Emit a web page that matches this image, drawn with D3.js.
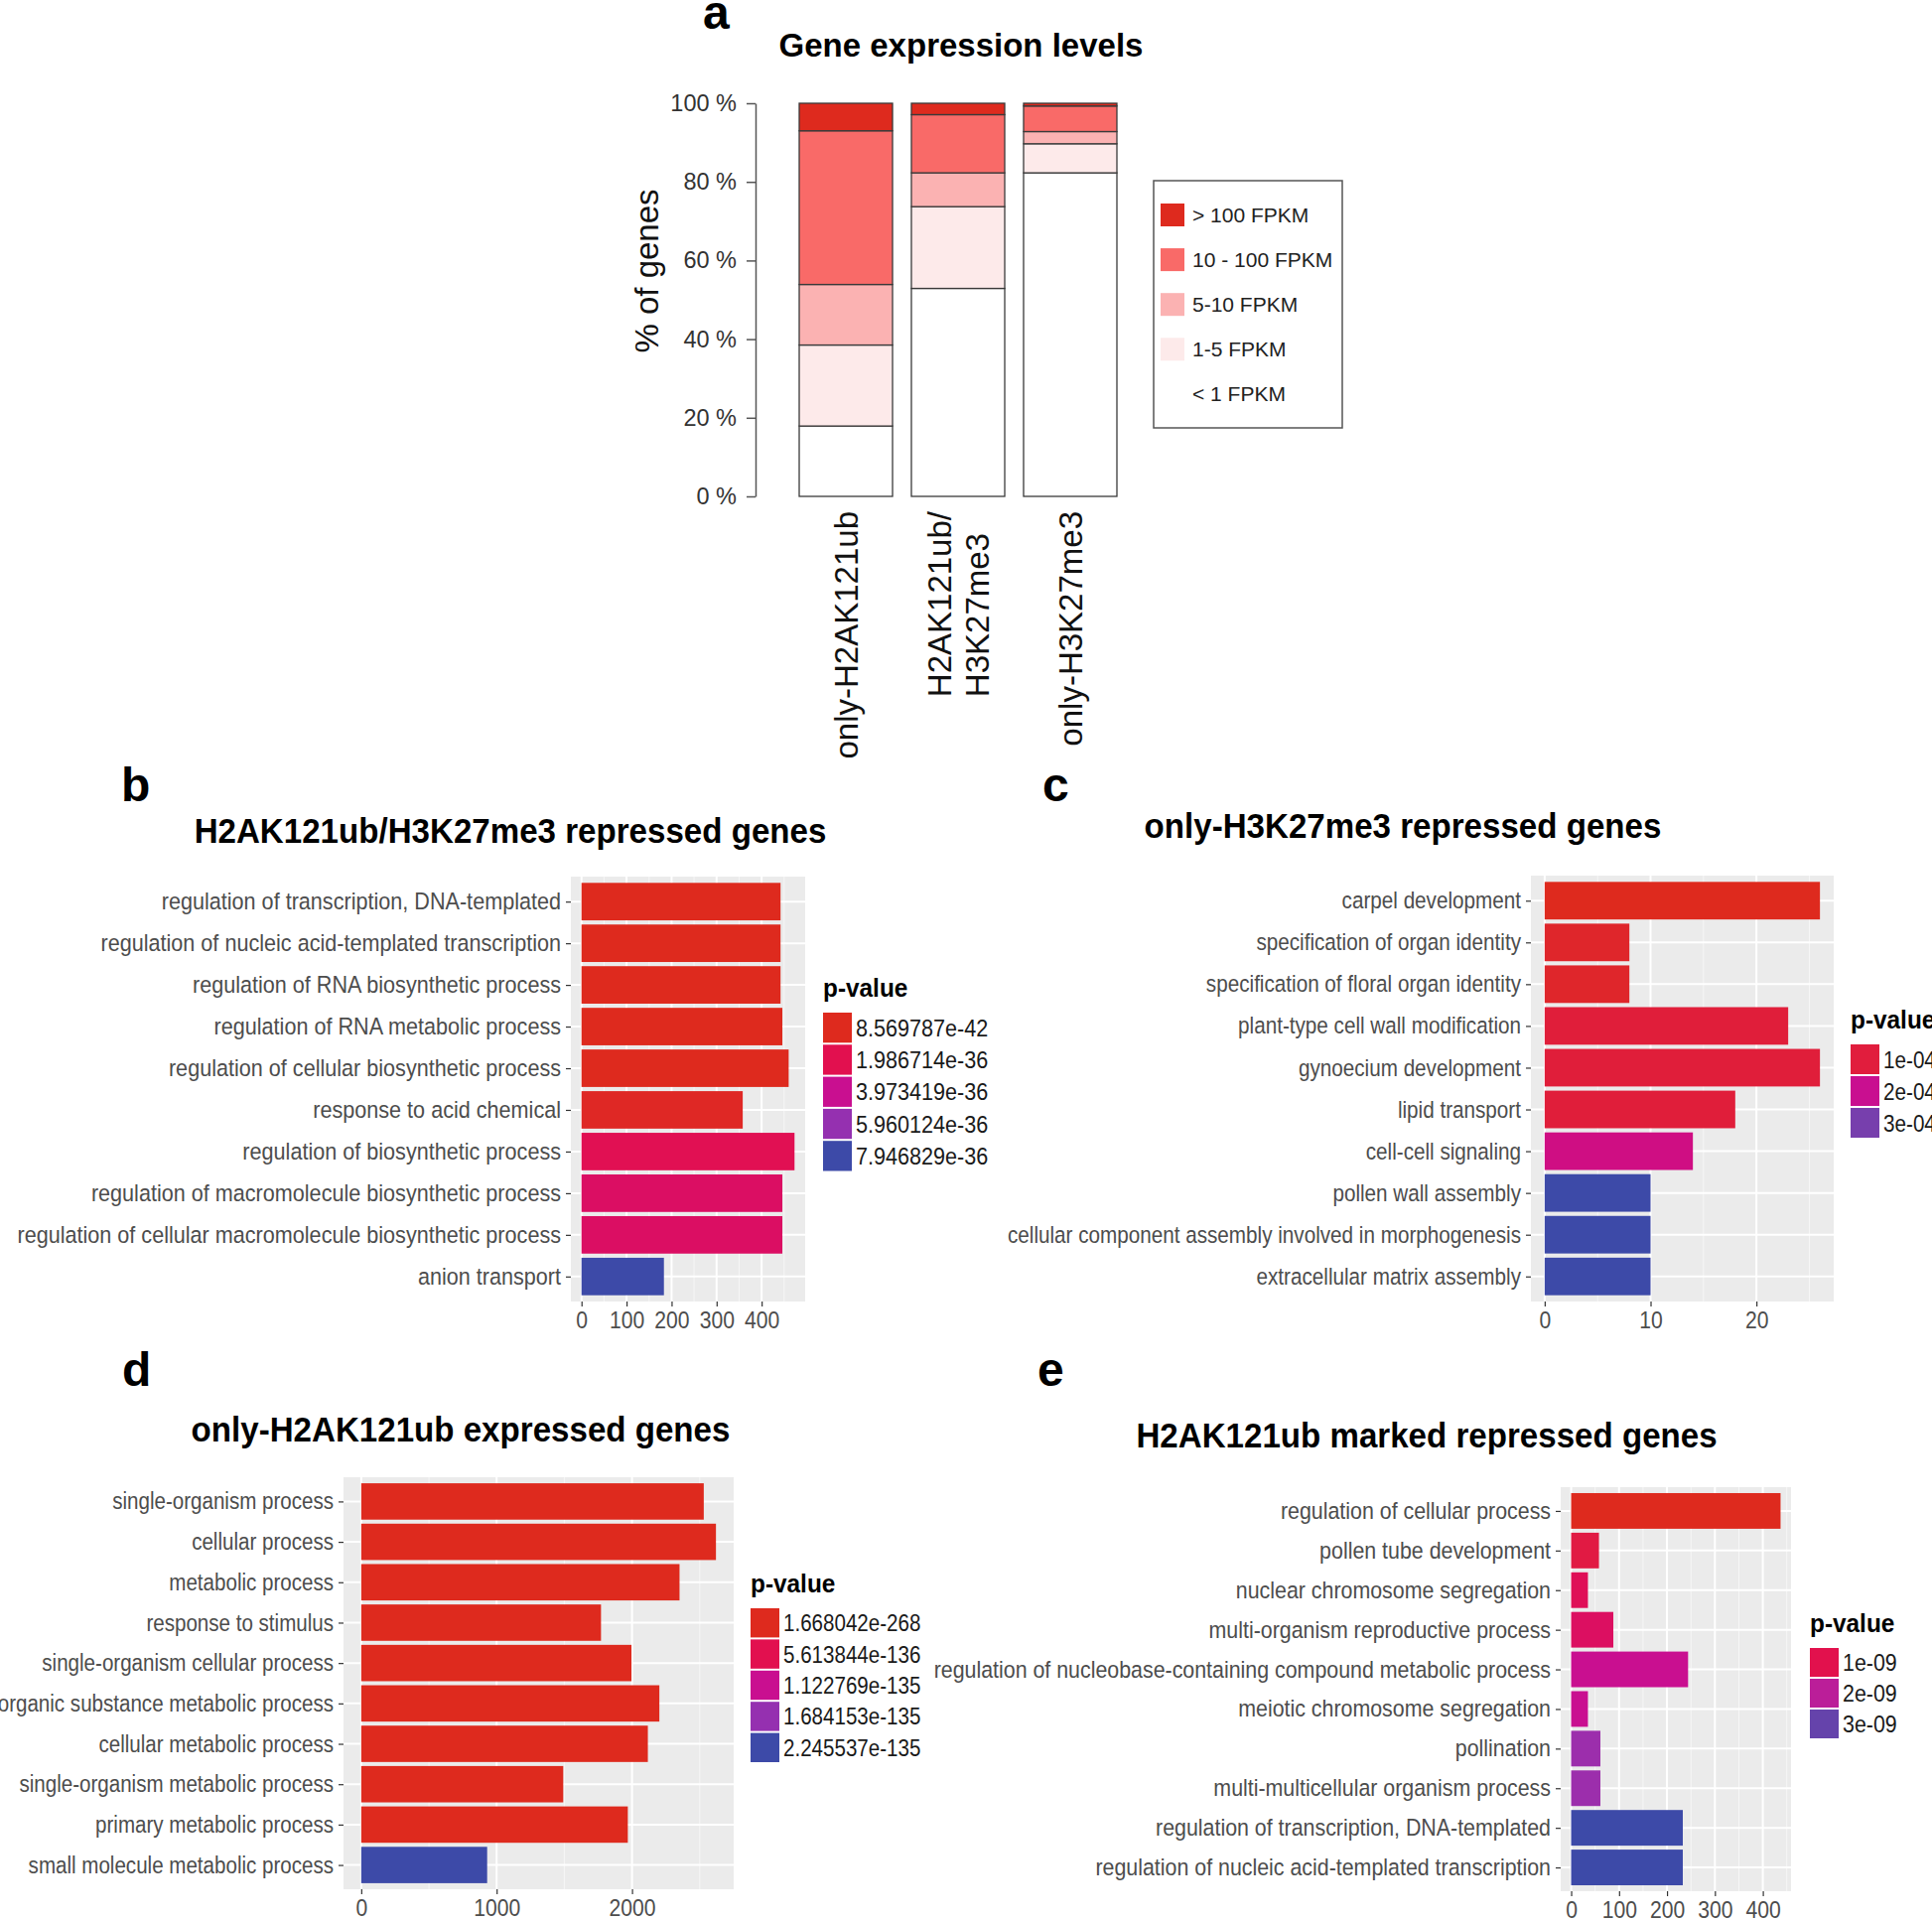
<!DOCTYPE html>
<html lang="en">
<head>
<meta charset="UTF-8">
<title>Gene expression levels and GO terms</title>
<script src="https://d3js.org/d3.v7.min.js"></script>
<style>
  body { margin: 0; background: #fff; }
  svg { display: block; font-family: "Liberation Sans", Arial, sans-serif; }
</style>
</head>
<body>
<div id="chart"></div>
<script>
// ---------- panel a: expression levels ----------
const groups = ["only-H2AK121ub", "H2AK121ub/\nH3K27me3", "only-H3K27me3"];
const levels = ["< 1 FPKM", "1-5 FPKM", "5-10 FPKM", "10 - 100 FPKM", "> 100 FPKM"];
const below1 = [17.9, 52.9, 82.3];
const fpkm1to5 = [20.6, 20.8, 7.4];
const fpkm5to10 = [15.4, 8.6, 3.1];
const fpkm10to100 = [39.1, 14.8, 6.5];
const above100 = [7.0, 2.9, 0.7];
const pctTicks = [0, 20, 40, 60, 80, 100];

// ---------- panel b ----------
const bTerms = ["regulation of transcription, DNA-templated", "regulation of nucleic acid-templated transcription",
  "regulation of RNA biosynthetic process", "regulation of RNA metabolic process",
  "regulation of cellular biosynthetic process", "response to acid chemical",
  "regulation of biosynthetic process", "regulation of macromolecule biosynthetic process",
  "regulation of cellular macromolecule biosynthetic process", "anion transport"];
const bCounts = [442, 442, 442, 446, 460, 358, 473, 446, 446, 183];
const bPvals = [8.569787e-42, 8.569787e-42, 8.569787e-42, 8.569787e-42, 8.569787e-42,
  2.4e-37, 2.1e-36, 2.6e-36, 2.6e-36, 7.946829e-36];
const bBreaks = ["8.569787e-42", "1.986714e-36", "3.973419e-36", "5.960124e-36", "7.946829e-36"];
const bTicks = [0, 100, 200, 300, 400];

// ---------- panel c ----------
const cTerms = ["carpel development", "specification of organ identity", "specification of floral organ identity",
  "plant-type cell wall modification", "gynoecium development", "lipid transport", "cell-cell signaling",
  "pollen wall assembly", "cellular component assembly involved in morphogenesis", "extracellular matrix assembly"];
const cCounts = [26, 8, 8, 23, 26, 18, 14, 10, 10, 10];
const cPvals = [5.7e-5, 7.3e-5, 7.3e-5, 9.6e-5, 9.6e-5, 9.6e-5, 1.86e-4, 3.43e-4, 3.43e-4, 3.43e-4];
const cBreaks = ["1e-04", "2e-04", "3e-04"];
const cTicks = [0, 10, 20];

// ---------- panel d ----------
const dTerms = ["single-organism process", "cellular process", "metabolic process", "response to stimulus",
  "single-organism cellular process", "organic substance metabolic process", "cellular metabolic process",
  "single-organism metabolic process", "primary metabolic process", "small molecule metabolic process"];
const dCounts = [2530, 2620, 2351, 1771, 1996, 2202, 2117, 1492, 1969, 930];
const dPvals = [1.668042e-268, 1.668042e-268, 1.668042e-268, 1.668042e-268, 1.668042e-268,
  1.668042e-268, 1.668042e-268, 1.668042e-268, 1.668042e-268, 2.245537e-135];
const dBreaks = ["1.668042e-268", "5.613844e-136", "1.122769e-135", "1.684153e-135", "2.245537e-135"];
const dTicks = [0, 1000, 2000];

// ---------- panel e ----------
const eTerms = ["regulation of cellular process", "pollen tube development", "nuclear chromosome segregation",
  "multi-organism reproductive process", "regulation of nucleobase-containing compound metabolic process",
  "meiotic chromosome segregation", "pollination", "multi-multicellular organism process",
  "regulation of transcription, DNA-templated", "regulation of nucleic acid-templated transcription"];
const eCounts = [437, 58, 35, 88, 244, 35, 61, 61, 233, 233];
const ePvals = [2.7e-10, 8.2e-10, 1.12e-9, 1.24e-9, 1.79e-9, 1.79e-9, 2.45e-9, 2.45e-9, 3.3e-9, 3.3e-9];
const eBreaks = ["1e-09", "2e-09", "3e-09"];
const eTicks = [0, 100, 200, 300, 400];

// colours
const levelColors = ["#ffffff", "#fdeaea", "#fbb2b2", "#f96a68", "#de2a1e"];
const grad = d3.scaleLinear()
  .domain([0, 0.25, 0.5, 0.75, 1])
  .range(["#de2a1e", "#e2104f", "#c90f90", "#9530b0", "#3d4aa8"])
  .interpolate(d3.interpolateLab);

const W = 1946, H = 1934;
const K = 0.92; // horizontal squeeze for the ggplot titles

const svg = d3.select("#chart").append("svg")
  .attr("width", W).attr("height", H);
svg.append("rect").attr("width", W).attr("height", H).attr("fill", "#fff");

function letter(txt, x, y) {
  svg.append("text").attr("x", x).attr("y", y)
    .attr("font-size", 48).attr("font-weight", "bold").attr("fill", "#000").text(txt);
}

// squeezed text helper
function ctext(g, x, y, str, size, anchor, k, extra) {
  const t = g.append("text")
    .attr("transform", `translate(${x},${y}) scale(${k},1)`)
    .attr("font-size", size).attr("text-anchor", anchor).text(str);
  if (extra) extra(t);
  return t;
}

// ================= panel a =================
(function () {
  const g = svg.append("g");
  const rows = groups.map((grp, i) => ({
    group: grp,
    "< 1 FPKM": below1[i], "1-5 FPKM": fpkm1to5[i], "5-10 FPKM": fpkm5to10[i],
    "10 - 100 FPKM": fpkm10to100[i], "> 100 FPKM": above100[i]
  }));
  const series = d3.stack().keys(levels)(rows);
  const color = d3.scaleOrdinal().domain(levels).range(levelColors);

  const x = d3.scaleBand().domain(groups).range([805, 1125]).paddingInner(0.168).paddingOuter(0);
  const y = d3.scaleLinear().domain([0, 100]).range([500, 104]);

  g.selectAll("g.layer")
    .data(series)
    .join("g").attr("class", "layer")
    .attr("fill", d => color(d.key))
    .selectAll("rect")
    .data(d => d)
    .join("rect")
    .attr("x", d => x(d.data.group))
    .attr("width", x.bandwidth())
    .attr("y", d => y(d[1]))
    .attr("height", d => y(d[0]) - y(d[1]))
    .attr("stroke", "#3a3a3a").attr("stroke-width", 1.3);

  const ax = g.append("g").attr("transform", "translate(761,0)")
    .call(d3.axisLeft(y).tickValues(pctTicks).tickFormat(d => d + " %")
      .tickSize(9).tickSizeOuter(0).tickPadding(10));
  ax.select(".domain").attr("stroke", "#555").attr("stroke-width", 1.5);
  ax.selectAll(".tick line").attr("stroke", "#555").attr("stroke-width", 1.5);
  ax.selectAll(".tick text").attr("font-size", 23.5).attr("fill", "#333")
    .attr("font-family", "Liberation Sans, Arial, sans-serif");

  // rotated group labels, right-adjusted at the top
  groups.forEach(grp => {
    const lines = grp.split("\n");
    const cx = x(grp) + x.bandwidth() / 2;
    const texts = lines.map((ln, i) => {
      const bx = cx + 12 + (i - (lines.length - 1) / 2) * 38;
      return g.append("text").attr("font-size", 33).attr("fill", "#111")
        .attr("text-anchor", "start").attr("data-bx", bx).text(ln);
    });
    const maxLen = d3.max(texts, t => t.node().getComputedTextLength());
    texts.forEach(t => {
      t.attr("transform", `translate(${t.attr("data-bx")},${515 + maxLen}) rotate(-90)`);
    });
  });

  g.append("text").attr("transform", "translate(663,273) rotate(-90)")
    .attr("text-anchor", "middle").attr("font-size", 33).attr("fill", "#111").text("% of genes");

  g.append("text").attr("x", 968).attr("y", 57).attr("text-anchor", "middle")
    .attr("font-size", 33).attr("font-weight", "bold").text("Gene expression levels");

  // legend
  g.append("rect").attr("x", 1162).attr("y", 182).attr("width", 190).attr("height", 249)
    .attr("fill", "none").attr("stroke", "#555").attr("stroke-width", 1.5);
  const legendOrder = levels.slice().reverse();
  const li = g.selectAll("g.li").data(legendOrder).join("g").attr("class", "li")
    .attr("transform", (d, i) => `translate(1169,${216.5 + i * 45.1})`);
  li.append("rect").attr("y", -11.5).attr("width", 24).attr("height", 23).attr("fill", d => color(d));
  li.append("text").attr("x", 32).attr("y", 7.5).attr("font-size", 21).attr("fill", "#222").text(d => d);

  letter("a", 708, 29);
})();

// ================= GO panels =================
function drawGo(o) {
  const g = svg.append("g");
  const k = o.k;
  const maxV = d3.max(o.counts);
  const x = d3.scaleLinear().domain([-0.05 * maxV, 1.05 * maxV]).range([o.left, o.right]);
  const y = d3.scalePoint().domain(o.terms).range([o.top, o.bottom]).padding(0.6);
  const bh = y.step() * 0.9;
  const tScale = d3.scaleLinear().domain(d3.extent(o.pvals)).range([0, 1]).clamp(true);
  const fill = p => grad(tScale(p));

  g.append("rect").attr("x", o.left).attr("y", o.top)
    .attr("width", o.right - o.left).attr("height", o.bottom - o.top).attr("fill", "#ebebeb");

  const stepT = o.ticks[1] - o.ticks[0];
  const minor = o.ticks.map(v => v + stepT / 2).filter(v => v < x.domain()[1]);
  g.selectAll("line.minor").data(minor).join("line").attr("class", "minor")
    .attr("x1", d => x(d)).attr("x2", d => x(d)).attr("y1", o.top).attr("y2", o.bottom)
    .attr("stroke", "#f6f6f6").attr("stroke-width", 1);
  g.selectAll("line.major").data(o.ticks).join("line").attr("class", "major")
    .attr("x1", d => x(d)).attr("x2", d => x(d)).attr("y1", o.top).attr("y2", o.bottom)
    .attr("stroke", "#fff").attr("stroke-width", 2);
  g.selectAll("line.hmajor").data(o.terms).join("line").attr("class", "hmajor")
    .attr("x1", o.left).attr("x2", o.right).attr("y1", d => y(d)).attr("y2", d => y(d))
    .attr("stroke", "#fff").attr("stroke-width", 2);

  g.selectAll("rect.bar").data(o.terms).join("rect").attr("class", "bar")
    .attr("x", x(0)).attr("y", d => y(d) - bh / 2)
    .attr("width", (d, i) => x(o.counts[i]) - x(0)).attr("height", bh)
    .attr("fill", (d, i) => fill(o.pvals[i]));

  // axes
  const ax = g.append("g").attr("transform", `translate(0,${o.bottom})`)
    .call(d3.axisBottom(x).tickValues(o.ticks).tickFormat(d3.format("d")).tickSize(5).tickPadding(6));
  ax.select(".domain").remove();
  ax.selectAll(".tick line").attr("stroke", "#333").attr("stroke-width", 1.2);
  ax.selectAll(".tick text").attr("font-size", 23).attr("fill", "#4d4d4d")
    .attr("font-family", "Liberation Sans, Arial, sans-serif")
    .attr("transform", `scale(${K},1)`);

  const ay = g.append("g").attr("transform", `translate(${o.left},0)`)
    .call(d3.axisLeft(y).tickSize(5).tickPadding(5));
  ay.select(".domain").remove();
  ay.selectAll(".tick line").attr("stroke", "#333").attr("stroke-width", 1.2);
  ay.selectAll(".tick text").attr("font-size", 23.5).attr("fill", "#4d4d4d")
    .attr("font-family", "Liberation Sans, Arial, sans-serif")
    .attr("x", -10 / k).attr("transform", `scale(${k},1)`);

  // title and letter
  ctext(g, o.titleX, o.titleY, o.title, 36, "middle", K, t => t.attr("font-weight", "bold").attr("fill", "#000"));
  letter(o.letter, o.letterX, o.letterY);

  // legend
  ctext(g, o.legX, o.legTop - 16, "p-value", 26.5, "start", K, t => t.attr("font-weight", "bold"));
  o.breaks.forEach((b, i) => {
    const ky = o.legTop + i * o.keyH;
    g.append("rect").attr("x", o.legX).attr("y", ky).attr("width", 29).attr("height", o.keyH - 2)
      .attr("fill", fill(+b));
    ctext(g, o.legX + 33, ky + o.keyH / 2 + 7.5, b, 23.5, "start", k, t => t.attr("fill", "#1a1a1a"));
  });
}

drawGo({ terms: bTerms, counts: bCounts, pvals: bPvals, breaks: bBreaks, ticks: bTicks,
  left: 575, right: 811, top: 883, bottom: 1311, k: 0.92,
  title: "H2AK121ub/H3K27me3 repressed genes", titleX: 514, titleY: 849,
  letter: "b", letterX: 122, letterY: 807, legX: 829, legTop: 1020, keyH: 32.3 });

drawGo({ terms: cTerms, counts: cCounts, pvals: cPvals, breaks: cBreaks, ticks: cTicks,
  left: 1542, right: 1847, top: 882, bottom: 1311, k: 0.88,
  title: "only-H3K27me3 repressed genes", titleX: 1413, titleY: 844,
  letter: "c", letterX: 1050, letterY: 807, legX: 1864, legTop: 1052, keyH: 32 });

drawGo({ terms: dTerms, counts: dCounts, pvals: dPvals, breaks: dBreaks, ticks: dTicks,
  left: 346, right: 739, top: 1488, bottom: 1903, k: 0.875,
  title: "only-H2AK121ub expressed genes", titleX: 464, titleY: 1452,
  letter: "d", letterX: 123, letterY: 1396, legX: 756, legTop: 1620, keyH: 31.4 });

drawGo({ terms: eTerms, counts: eCounts, pvals: ePvals, breaks: eBreaks, ticks: eTicks,
  left: 1572, right: 1804, top: 1498, bottom: 1905, k: 0.91,
  title: "H2AK121ub marked repressed genes", titleX: 1437, titleY: 1458,
  letter: "e", letterX: 1045, letterY: 1396, legX: 1823, legTop: 1660, keyH: 31 });
</script>
</body>
</html>
